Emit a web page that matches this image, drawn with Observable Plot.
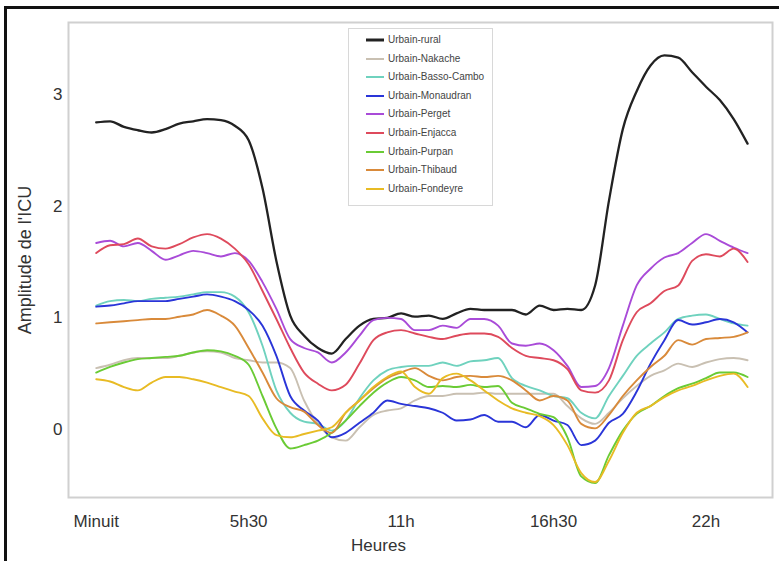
<!DOCTYPE html>
<html><head><meta charset="utf-8">
<script src="https://cdn.jsdelivr.net/npm/d3@7"></script>
<script src="https://cdn.jsdelivr.net/npm/@observablehq/plot@0.6"></script>
<style>
body{margin:0;background:#fff;font-family:"Liberation Sans",Arial,sans-serif;}
#wrap{position:relative;width:779px;height:561px;overflow:hidden;background:#fff}
#border{position:absolute;left:4px;top:6px;width:800px;height:600px;border-top:3px solid #111;border-left:3px solid #111;pointer-events:none}
#legend{position:absolute;left:348px;top:28px;width:145px;height:178px;border:1px solid #d8d8d8;background:#fff;box-sizing:border-box;padding-top:2px}
.row{position:relative;height:18.6px;font-size:10px;color:#444;white-space:nowrap}
.row svg{position:absolute;left:17px;top:7px}
.row span{position:absolute;left:39px;top:3px;line-height:12px}
</style></head>
<body><div id="wrap"><div id="chart"></div><div id="legend"></div><div id="border"></div></div>
<script>
const names = ["Urbain-rural","Urbain-Nakache","Urbain-Basso-Cambo","Urbain-Monaudran","Urbain-Perget","Urbain-Enjacca","Urbain-Purpan","Urbain-Thibaud","Urbain-Fondeyre"];
const colors = ["#222222","#c9c0b2","#6fd2be","#2a35d8","#a94bd8","#de4a5c","#6acb35","#d98a3a","#e8bb24"];
const hours = [0,0.5,1,1.5,2,2.5,3,3.5,4,4.5,5,5.5,6,6.5,7,7.5,8,8.5,9,9.5,10,10.5,11,11.5,12,12.5,13,13.5,14,14.5,15,15.5,16,16.5,17,17.5,18,18.5,19,19.5,20,20.5,21,21.5,22,22.5,23,23.5];
const rural = [2.75,2.76,2.71,2.68,2.66,2.69,2.74,2.76,2.78,2.77,2.72,2.59,2.16,1.51,1.02,0.84,0.73,0.68,0.81,0.93,0.99,1.00,1.04,1.01,1.02,0.99,1.04,1.08,1.07,1.07,1.07,1.03,1.11,1.07,1.08,1.07,1.29,2.05,2.69,3.03,3.26,3.35,3.33,3.20,3.07,2.95,2.78,2.56];
const nakache = [0.55,0.58,0.62,0.64,0.64,0.64,0.66,0.69,0.70,0.69,0.64,0.62,0.60,0.60,0.55,0.26,0.05,-0.07,-0.10,0.02,0.13,0.17,0.19,0.26,0.30,0.30,0.32,0.32,0.33,0.32,0.32,0.32,0.32,0.32,0.21,0.10,0.05,0.15,0.28,0.39,0.48,0.53,0.59,0.56,0.60,0.63,0.64,0.62];
const bassoCambo = [1.11,1.15,1.16,1.15,1.17,1.18,1.19,1.21,1.23,1.23,1.19,1.05,0.75,0.35,0.15,0.07,0.05,-0.01,0.08,0.28,0.44,0.53,0.56,0.57,0.57,0.60,0.57,0.61,0.62,0.64,0.46,0.39,0.35,0.30,0.28,0.15,0.10,0.30,0.48,0.66,0.77,0.87,0.99,1.02,1.03,0.99,0.95,0.93];
const monaudran = [1.10,1.11,1.13,1.15,1.15,1.15,1.17,1.19,1.21,1.19,1.15,1.07,0.93,0.66,0.30,0.17,0.08,-0.07,-0.03,0.06,0.15,0.26,0.23,0.21,0.19,0.15,0.08,0.09,0.13,0.07,0.07,0.02,0.13,0.08,0.04,-0.14,-0.10,0.06,0.14,0.34,0.59,0.80,0.98,0.94,0.96,0.99,0.96,0.87];
const perget = [1.67,1.69,1.64,1.67,1.60,1.52,1.56,1.60,1.58,1.55,1.58,1.51,1.32,1.08,0.81,0.73,0.69,0.60,0.69,0.84,0.98,1.00,0.99,0.89,0.89,0.93,0.91,0.99,0.99,0.93,0.77,0.75,0.77,0.71,0.57,0.38,0.39,0.55,0.93,1.29,1.44,1.54,1.58,1.67,1.75,1.69,1.63,1.58];
const enjacca = [1.58,1.65,1.66,1.71,1.64,1.62,1.66,1.72,1.75,1.71,1.62,1.48,1.24,0.99,0.73,0.51,0.41,0.35,0.40,0.59,0.80,0.87,0.89,0.86,0.83,0.81,0.84,0.86,0.86,0.83,0.73,0.66,0.64,0.62,0.54,0.35,0.33,0.44,0.80,1.05,1.13,1.24,1.29,1.51,1.57,1.55,1.62,1.50];
const purpan = [0.51,0.56,0.60,0.63,0.64,0.65,0.66,0.69,0.71,0.70,0.66,0.58,0.30,0.01,-0.17,-0.14,-0.10,-0.03,0.08,0.21,0.33,0.42,0.47,0.44,0.38,0.39,0.38,0.40,0.38,0.39,0.24,0.19,0.14,0.11,-0.07,-0.42,-0.48,-0.23,-0.01,0.14,0.21,0.30,0.37,0.41,0.46,0.51,0.51,0.47];
const thibaud = [0.95,0.96,0.97,0.98,0.99,0.99,1.01,1.03,1.07,1.02,0.93,0.73,0.51,0.28,0.20,0.16,0.04,-0.03,0.15,0.26,0.37,0.46,0.51,0.55,0.48,0.44,0.47,0.48,0.47,0.48,0.44,0.35,0.26,0.30,0.26,0.05,0.01,0.13,0.30,0.44,0.56,0.66,0.80,0.76,0.81,0.82,0.83,0.87];
const fondeyre = [0.45,0.43,0.38,0.35,0.42,0.47,0.47,0.45,0.42,0.38,0.34,0.30,0.10,-0.05,-0.07,-0.04,-0.01,0.02,0.15,0.26,0.38,0.47,0.52,0.38,0.32,0.46,0.50,0.44,0.35,0.26,0.19,0.15,0.12,0.04,-0.14,-0.39,-0.47,-0.28,-0.03,0.15,0.21,0.29,0.35,0.39,0.44,0.48,0.50,0.38];
const seriesValues = [rural,nakache,bassoCambo,monaudran,perget,enjacca,purpan,thibaud,fondeyre];
const xTicks = [0,5.5,11,16.5,22];
const xTickLabels = ["Minuit","5h30","11h","16h30","22h"];
const yTicks = [0,1,2,3];

const rows = [];
names.forEach((n,i)=>seriesValues[i].forEach((v,j)=>rows.push({name:n,h:hours[j],v})));

const lineMarks = names.map((n,i)=>Plot.line(rows.filter(r=>r.name===n),{x:"h",y:"v",stroke:"name",strokeWidth:i===0?2.3:1.9,curve:"monotone-x"}));

const chart = Plot.plot({
  width:779,height:561,
  marginLeft:68,marginTop:22,marginRight:7,marginBottom:64,
  style:{fontFamily:"'Liberation Sans',Arial,sans-serif",fontSize:"17px",color:"#333",background:"transparent"},
  x:{domain:[-1,24.4]},
  y:{domain:[-0.609,3.645]},
  color:{domain:names,range:colors},
  marks:[
    Plot.frame({stroke:"#d0d0d0",strokeWidth:2}),
    Plot.axisX({ticks:xTicks,tickFormat:d=>xTickLabels[xTicks.indexOf(d)],tickSize:0,tickPadding:17,label:null,fontSize:17}),
    Plot.axisY({ticks:yTicks,tickFormat:d=>String(d),tickSize:0,tickPadding:6,label:null,fontSize:17}),
    ...lineMarks,
    Plot.text(["Heures"],{text:d=>d,frameAnchor:"bottom",lineAnchor:"middle",textAnchor:"middle",dy:48,dx:-42,fontSize:17,fill:"#333"}),
    Plot.text(["Amplitude de l'ICU"],{text:d=>d,frameAnchor:"left",lineAnchor:"middle",textAnchor:"middle",rotate:-90,dx:-43,fontSize:18,fill:"#333"})
  ]
});
document.getElementById("chart").appendChild(chart);

const leg = document.getElementById("legend");
names.forEach((n,i)=>{
  const r=document.createElement("div");r.className="row";
  r.innerHTML=`<svg width="18" height="4"><line x1="0" x2="18" y1="2" y2="2" stroke="${colors[i]}" stroke-width="${i===0?3:2}"/></svg><span>${n}</span>`;
  leg.appendChild(r);
});
</script></body></html>
